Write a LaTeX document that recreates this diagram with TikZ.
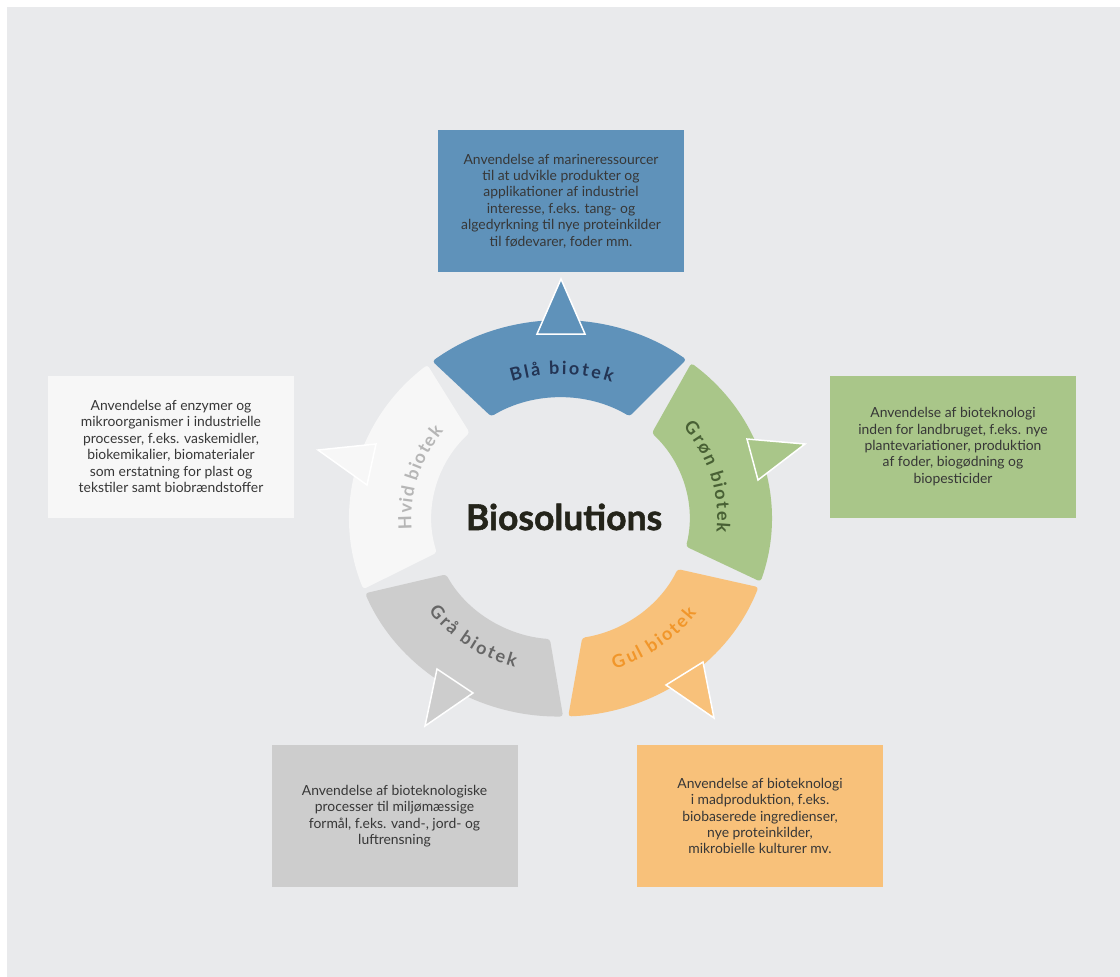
\documentclass[tikz,border=0pt]{standalone}
\usepackage{fontspec}
\setmainfont{Lato}
\newfontfamily\titlefont{Lato}[BoldFeatures={FakeBold=1.5}]
\usetikzlibrary{decorations.text}
\definecolor{bgc}{RGB}{233,234,236}
\definecolor{blueF}{RGB}{95,146,186}
\definecolor{blueT}{RGB}{35,52,84}
\definecolor{greenF}{RGB}{169,198,137}
\definecolor{greenT}{RGB}{72,96,52}
\definecolor{yellowF}{RGB}{248,193,122}
\definecolor{yellowT}{RGB}{241,150,42}
\definecolor{grayF}{RGB}{205,205,205}
\definecolor{grayT}{RGB}{102,102,102}
\definecolor{whiteF}{RGB}{247,247,247}
\definecolor{whiteT}{RGB}{182,182,182}
\definecolor{boxtext}{RGB}{55,55,55}
\definecolor{titleC}{RGB}{36,36,26}
\newcommand\seglab{\bfseries\fontsize{18}{18}\selectfont}
\tikzset{
  infobox/.style={minimum width=246pt, minimum height=142pt, inner sep=0pt, align=center,
    font=\fontsize{13.9}{16.4}\selectfont, text=boxtext},
  segment/.style={rounded corners=3pt},
  arrowtri/.style={draw=white, line width=1.5pt, line join=miter},
  seglabel/.style 2 args={decorate, decoration={text effects along path, text={#2},
    text effects/.cd, text along path, fit text to path,
    characters={text=#1, font=\seglab}}}
}
\begin{document}
\begin{tikzpicture}[x=1pt,y=1pt]
\useasboundingbox (0,0) rectangle (1120,-977);
\fill[white] (0,0) rectangle (1120,-977);
\fill[bgc] (7,-7) rectangle (1120,-977);

% info boxes
\node[infobox, fill=blueF] (bluebox) at (561,-201) {Anvendelse af marineressourcer\\til at udvikle produkter og\\applikationer af industriel\\interesse, f.eks. tang- og\\algedyrkning til nye proteinkilder\\til fødevarer, foder mm.};
\node[infobox, fill=whiteF] (whitebox) at (171,-446.5) {Anvendelse af enzymer og\\mikroorganismer i industrielle\\processer, f.eks. vaskemidler,\\biokemikalier, biomaterialer\\som erstatning for plast og\\tekstiler samt biobrændstoffer};
\node[infobox, fill=greenF] (greenbox) at (953,-446.5) {Anvendelse af bioteknologi\\inden for landbruget, f.eks. nye\\plantevariationer, produktion\\af foder, biogødning og\\biopesticider};
\node[infobox, fill=grayF] (graybox) at (394.5,-816) {Anvendelse af bioteknologiske\\processer til miljømæssige\\formål, f.eks. vand-, jord- og\\luftrensning};
\node[infobox, fill=yellowF] (yellowbox) at (760,-816) {Anvendelse af bioteknologi\\i madproduktion, f.eks.\\biobaserede ingredienser,\\nye proteinkilder,\\mikrobielle kulturer mv.};

% ring segments
\begin{scope}[shift={(560.5,-518.5)}, xscale=1.066]
\fill[segment, blueF] (53.4:198) arc[start angle=53.4, end angle=127.4, radius=198]
  -- (122.5:121) arc[start angle=122.5, end angle=57.6, radius=121] -- cycle;
\fill[segment, greenF] (-18.6:198) arc[start angle=-18.6, end angle=51.7, radius=198]
  -- (44.9:121) arc[start angle=44.9, end angle=-13.4, radius=121] -- cycle;
\fill[segment, yellowF] (-87.9:198) arc[start angle=-87.9, end angle=-20.3, radius=198]
  -- (-24.7:121) arc[start angle=-24.7, end angle=-80.3, radius=121] -- cycle;
\fill[segment, grayF] (202.2:198) arc[start angle=202.2, end angle=270.7, radius=198]
  -- (265.3:121) arc[start angle=265.3, end angle=207.5, radius=121] -- cycle;
\fill[segment, whiteF] (129.1:198) arc[start angle=129.1, end angle=200.9, radius=198]
  -- (196.4:121) arc[start angle=196.4, end angle=134.8, radius=121] -- cycle;

\path[seglabel={blueT}{Blå biotek}] (108.5:144) arc[start angle=108.5, end angle=70.5, radius=144];
\path[seglabel={greenT}{Grøn biotek}] (38.5:147) arc[start angle=38.5, end angle=-5.5, radius=147];
\path[seglabel={yellowT}{Gul biotek}] (-71.5:159) arc[start angle=-71.5, end angle=-36.5, radius=159];
\path[seglabel={grayT}{Grå biotek}] (217:155) arc[start angle=217, end angle=254, radius=155];
\path[seglabel={whiteT}{Hvid biotek}] (184.5:140) arc[start angle=184.5, end angle=141.5, radius=140];
\end{scope}

% arrow heads
\filldraw[arrowtri, fill=blueF] (537,-334) -- (561,-279) -- (585,-334) -- cycle;
\filldraw[arrowtri, fill=greenF] (747,-439) -- (805,-444) -- (758,-480) -- cycle;
\filldraw[arrowtri, fill=yellowF] (666,-685) -- (714,-718) -- (703,-662) -- cycle;
\filldraw[arrowtri, fill=grayF] (473,-693) -- (425,-726) -- (437,-669) -- cycle;
\filldraw[arrowtri, fill=whiteF] (376,-444) -- (318,-450) -- (367,-485) -- cycle;

\node[font=\titlefont\bfseries\fontsize{35.5}{36}\selectfont, text=titleC, inner sep=0pt] (title) at (564,-517) {Biosolutions};
\end{tikzpicture}
\end{document}
